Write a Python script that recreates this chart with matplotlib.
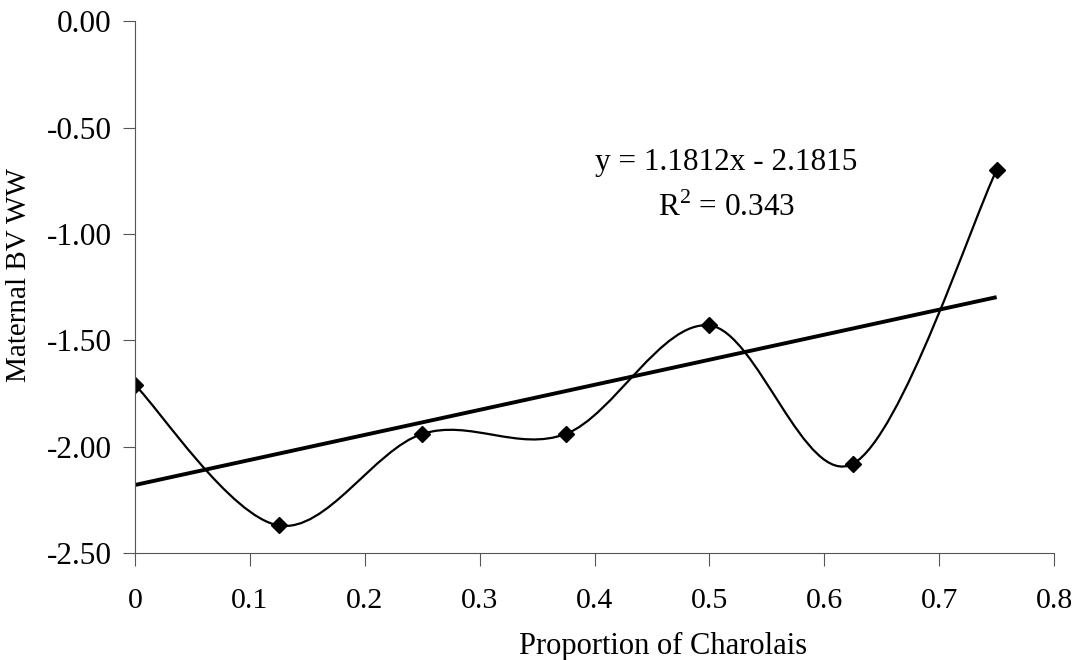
import numpy as np
import matplotlib
matplotlib.use("Agg")
import matplotlib.pyplot as plt
from matplotlib.path import Path
from matplotlib.patches import PathPatch

plt.rcParams['font.family'] = ['Liberation Serif', 'DejaVu Serif']
plt.rcParams['mathtext.fontset'] = 'custom'
plt.rcParams['mathtext.rm'] = 'Liberation Serif'

# data
prop = [0, 0.125, 0.25, 0.375, 0.5, 0.625, 0.75]
bv = [-1.71, -2.37, -1.94, -1.94, -1.43, -2.08, -0.70]

x = np.array(prop)
y = np.array(bv)

fig = plt.figure(figsize=(10.8, 6.6), dpi=100)
ax = fig.add_axes([0.125, 0.162, 0.851, 0.806])

# excel-like smoothed line (catmull-rom as bezier)
pts = np.column_stack([x, y])
ext = np.vstack([pts[0], pts, pts[-1]])
verts = [tuple(pts[0])]
codes = [Path.MOVETO]
for i in range(len(pts) - 1):
    p0, p1, p2, p3 = ext[i], ext[i+1], ext[i+2], ext[i+3]
    c1 = p1 + (p2 - p0) / 6
    c2 = p2 - (p3 - p1) / 6
    verts += [tuple(c1), tuple(c2), tuple(p2)]
    codes += [Path.CURVE4] * 3
ax.add_patch(PathPatch(Path(verts, codes), fill=False, lw=1.6, color='black'))
ax.plot(x, y, linestyle='none', marker='D', markersize=8.5, color='black')

# linear trend
m, b = np.polyfit(x, y, 1)
xt = np.array([x.min(), x.max()])
ax.plot(xt, m * xt + b, color='black', lw=2.8, solid_capstyle='butt')

ax.set_xlim(0, 0.8)
ax.set_ylim(-2.5, 0)
ax.set_xticks(np.arange(0, 0.81, 0.1))
ax.set_xticklabels(['0', '0.1', '0.2', '0.3', '0.4', '0.5', '0.6', '0.7', '0.8'])
ax.set_yticks(np.arange(-2.5, 0.01, 0.5))
ax.set_yticklabels(['%.2f' % v for v in np.arange(-2.5, 0.01, 0.5)])
ax.tick_params(length=9, width=0.8, color='#555555')
ax.tick_params(axis='y', labelsize=22.5, pad=8)
ax.tick_params(axis='x', labelsize=21.5, pad=16)
for s in ['top', 'right']:
    ax.spines[s].set_visible(False)
for s in ['left', 'bottom']:
    ax.spines[s].set_color('#555555')
    ax.spines[s].set_linewidth(0.8)

ax.set_xlabel('Proportion of Charolais', fontsize=22)
ax.xaxis.set_label_coords(0.575, -0.148)
ax.set_ylabel('Maternal BV WW', fontsize=21)
ax.yaxis.set_label_coords(-0.112, 0.523)

ax.text(0.515, -0.70, 'y = 1.1812x - 2.1815', fontsize=22.5, ha='center', va='baseline')
ax.text(0.515, -0.915, 'R$^{2}$ = 0.343', fontsize=22.5, ha='center', va='baseline')

fig.savefig('out.png', dpi=100)
